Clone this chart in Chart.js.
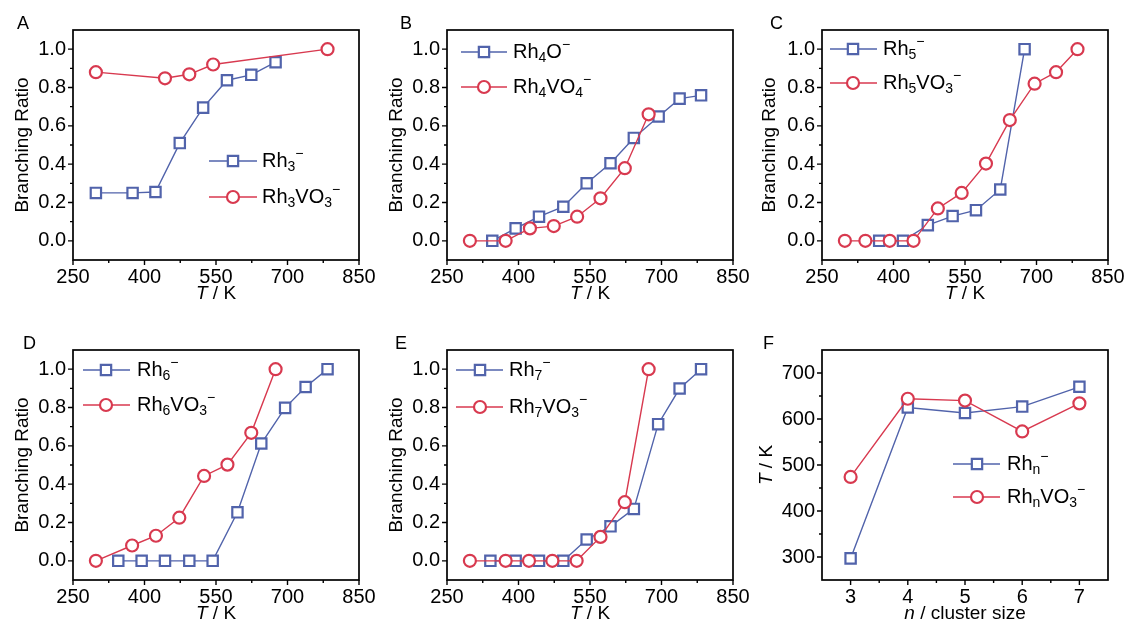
<!DOCTYPE html>
<html>
<head>
<meta charset="utf-8">
<script src="https://cdn.jsdelivr.net/npm/chart.js@4.4.1/dist/chart.umd.min.js"></script>
<style>
	html, body { margin: 0; padding: 0; background: #fff; overflow: hidden; }
	#wrap { position: relative; width: 1127px; height: 626px; }
	#wrap canvas { position: absolute; }
</style>
</head>
<body>
<div id="wrap">
	<canvas id="panelA" width="380" height="310" style="left:0px;top:0px;width:380px;height:310px"></canvas>
	<canvas id="panelB" width="380" height="310" style="left:374px;top:0px;width:380px;height:310px"></canvas>
	<canvas id="panelC" width="380" height="310" style="left:749px;top:0px;width:380px;height:310px"></canvas>
	<canvas id="panelD" width="380" height="310" style="left:0px;top:320px;width:380px;height:310px"></canvas>
	<canvas id="panelE" width="380" height="310" style="left:374px;top:320px;width:380px;height:310px"></canvas>
	<canvas id="panelF" width="380" height="310" style="left:749px;top:320px;width:380px;height:310px"></canvas>
</div>
<script>
// A: Rh3- / Rh3VO3-
var tempA_rh = [298, 375, 423, 474, 523, 573, 624, 675];
var ratioA_rh = [0.25, 0.25, 0.255, 0.51, 0.695, 0.838, 0.866, 0.932];
var tempA_rhv = [298, 443, 494, 544, 784];
var ratioA_rhv = [0.88, 0.848, 0.869, 0.92, 1.0];

// B: Rh4O- / Rh4VO4-
var tempB_rh = [345, 394, 443, 494, 543, 593, 642, 694, 738, 783];
var ratioB_rh = [0, 0.065, 0.126, 0.178, 0.30, 0.405, 0.537, 0.649, 0.742, 0.759];
var tempB_rhv = [298, 373, 424, 474, 523, 572, 623, 673];
var ratioB_rhv = [0, 0, 0.065, 0.077, 0.126, 0.222, 0.379, 0.66];

// C: Rh5- / Rh5VO3-
var tempC_rh = [370, 420, 472, 524, 573, 624, 675];
var ratioC_rh = [0, 0, 0.082, 0.129, 0.16, 0.268, 1.0];
var tempC_rhv = [298, 341, 392, 442, 493, 543, 594, 644, 696, 741, 786];
var ratioC_rhv = [0, 0, 0, 0, 0.169, 0.25, 0.403, 0.63, 0.82, 0.88, 1.0];

// D: Rh6- / Rh6VO3-
var tempD_rh = [345, 394, 443, 494, 543, 595, 645, 695, 738, 784];
var ratioD_rh = [0, 0, 0, 0, 0, 0.253, 0.612, 0.798, 0.907, 1.0];
var tempD_rhv = [298, 374, 424, 473, 525, 574, 624, 675];
var ratioD_rhv = [0, 0.08, 0.131, 0.225, 0.443, 0.502, 0.668, 1.0];

// E: Rh7- / Rh7VO3-
var tempE_rh = [341, 394, 443, 494, 543, 593, 642, 693, 738, 783];
var ratioE_rh = [0, 0, 0, 0, 0.111, 0.18, 0.271, 0.713, 0.899, 1.0];
var tempE_rhv = [298, 373, 422, 471, 522, 572, 623, 673];
var ratioE_rhv = [0, 0, 0, 0, 0, 0.125, 0.306, 1.0];

// F: temperature vs cluster size
var clusterSize = [3, 4, 5, 6, 7];
var tempF_rh = [297, 625, 613, 627, 670];
var tempF_rhv = [474, 644, 640, 573, 634];

// ticks
var tempTicks = [250, 400, 550, 700, 850];
var tempTickLabels = ["250", "400", "550", "700", "850"];
var tempMinor = [325, 475, 625, 775];
var ratioTicks = [0, 0.2, 0.4, 0.6, 0.8, 1.0];
var ratioTickLabels = ["0.0", "0.2", "0.4", "0.6", "0.8", "1.0"];
var ratioMinor = [0.1, 0.3, 0.5, 0.7, 0.9];
var sizeTicks = [3, 4, 5, 6, 7];
var sizeTickLabels = ["3", "4", "5", "6", "7"];
var sizeMinor = [3.5, 4.5, 5.5, 6.5];
var tempTicksF = [300, 400, 500, 600, 700];
var tempTickLabelsF = ["300", "400", "500", "600", "700"];
var tempMinorF = [350, 450, 550, 650];

// legend texts: [text, level(-1 sub, 1 sup), italic]
var MINUS = "\u2212";
var legendA = [[["Rh", 0], ["3", -1], [MINUS, 1]], [["Rh", 0], ["3", -1], ["VO", 0], ["3", -1], [MINUS, 1]]];
var legendB = [[["Rh", 0], ["4", -1], ["O", 0], [MINUS, 1]], [["Rh", 0], ["4", -1], ["VO", 0], ["4", -1], [MINUS, 1]]];
var legendC = [[["Rh", 0], ["5", -1], [MINUS, 1]], [["Rh", 0], ["5", -1], ["VO", 0], ["3", -1], [MINUS, 1]]];
var legendD = [[["Rh", 0], ["6", -1], [MINUS, 1]], [["Rh", 0], ["6", -1], ["VO", 0], ["3", -1], [MINUS, 1]]];
var legendE = [[["Rh", 0], ["7", -1], [MINUS, 1]], [["Rh", 0], ["7", -1], ["VO", 0], ["3", -1], [MINUS, 1]]];
var legendF = [[["Rh", 0], ["n", -1], [MINUS, 1]], [["Rh", 0], ["n", -1], ["VO", 0], ["3", -1], [MINUS, 1]]];

var titleTemp = [["T", 0, true], [" / K", 0]];
var titleRatio = [["Branching Ratio", 0]];
var titleSize = [["n", 0, true], [" / cluster size", 0]];

var FONT = '"Liberation Sans", Arial, sans-serif';
var BLUE = "#5163AB";
var RED = "#D8394F";
var RECT_R = 7.3;
var CIRC_R = 6;

function toXY(xs, ys) {
	return xs.map(function (x, i) {
		return { x: x, y: ys[i] };
	});
}

function partFont(p, size) {
	var s = p[1] === 0 ? size : Math.round(size * 0.7);
	return (p[2] ? "italic " : "") + s + "px " + FONT;
}

function drawRich(ctx, parts, x, y, size, align) {
	var w = 0;
	parts.forEach(function (p) {
		ctx.font = partFont(p, size);
		w += ctx.measureText(p[0]).width;
	});
	var cx = align === "center" ? x - w / 2 : x;
	ctx.textAlign = "left";
	ctx.textBaseline = "middle";
	parts.forEach(function (p) {
		ctx.font = partFont(p, size);
		var dy = 0;
		if (p[1] === -1) dy = size * 0.32;
		if (p[1] === 1) dy = -size * 0.36;
		ctx.fillText(p[0], cx, y + dy);
		cx += ctx.measureText(p[0]).width;
	});
}

function drawMarker(ctx, style, color, x, y) {
	ctx.save();
	ctx.fillStyle = "#fff";
	ctx.strokeStyle = color;
	ctx.lineWidth = 2.2;
	ctx.beginPath();
	if (style === "rect") {
		var s = RECT_R * Math.SQRT1_2;
		ctx.rect(x - s, y - s, 2 * s, 2 * s);
	} else {
		ctx.arc(x, y, CIRC_R, 0, Math.PI * 2);
	}
	ctx.fill();
	ctx.stroke();
	ctx.restore();
}

function decorPlugin(cfg) {
	return {
		id: "decor",
		afterDraw: function (chart) {
			var ctx = chart.ctx;
			var a = chart.chartArea;
			var sx = chart.scales.x;
			var sy = chart.scales.y;
			ctx.save();
			ctx.strokeStyle = "#000";
			ctx.fillStyle = "#000";

			// frame
			ctx.lineWidth = 1.7;
			ctx.strokeRect(a.left, a.top, a.right - a.left, a.bottom - a.top);

			// ticks, major and minor, pointing out
			ctx.lineWidth = 1.4;
			ctx.beginPath();
			cfg.xTicks.forEach(function (v) {
				var p = sx.getPixelForValue(v);
				ctx.moveTo(p, a.bottom); ctx.lineTo(p, a.bottom + 5);
			});
			cfg.xMinor.forEach(function (v) {
				var p = sx.getPixelForValue(v);
				ctx.moveTo(p, a.bottom); ctx.lineTo(p, a.bottom + 3);
			});
			cfg.yTicks.forEach(function (v) {
				var p = sy.getPixelForValue(v);
				ctx.moveTo(a.left, p); ctx.lineTo(a.left - 5, p);
			});
			cfg.yMinor.forEach(function (v) {
				var p = sy.getPixelForValue(v);
				ctx.moveTo(a.left, p); ctx.lineTo(a.left - 3, p);
			});
			ctx.stroke();

			// axis titles
			drawRich(ctx, cfg.xTitle, (a.left + a.right) / 2, 294, 19, "center");
			ctx.save();
			ctx.translate(cfg.yTitleX, (a.top + a.bottom) / 2);
			ctx.rotate(-Math.PI / 2);
			drawRich(ctx, cfg.yTitle, 0, 0, 19, "center");
			ctx.restore();

			// panel letter
			ctx.font = "18px " + FONT;
			ctx.textAlign = "left";
			ctx.textBaseline = "top";
			ctx.fillText(cfg.letter, cfg.letterX, 15);

			// legend
			var lg = cfg.legend;
			var items = [
				{ color: BLUE, style: "rect", text: lg.texts[0] },
				{ color: RED, style: "circle", text: lg.texts[1] }
			];
			items.forEach(function (it, i) {
				var y = lg.ys[i];
				ctx.strokeStyle = it.color;
				ctx.lineWidth = 1.4;
				ctx.beginPath();
				ctx.moveTo(lg.x1, y); ctx.lineTo(lg.x2, y);
				ctx.stroke();
				drawMarker(ctx, it.style, it.color, lg.mx, y);
				ctx.fillStyle = "#000";
				drawRich(ctx, it.text, lg.tx, y, 20, "left");
			});
			ctx.restore();
		}
	};
}

function makePanel(id, cfg) {
	var tickFont = { family: FONT, size: 20 };
	new Chart(document.getElementById(id), {
		type: "line",
		data: {
			datasets: [
				{
					data: toXY(cfg.xRed, cfg.yRed),
					borderColor: RED,
					borderWidth: 1.4,
					pointStyle: "circle",
					pointRadius: CIRC_R,
					pointBorderWidth: 2.2,
					pointBorderColor: RED,
					pointBackgroundColor: "#fff",
					tension: 0,
					fill: false,
					clip: false
				},
				{
					data: toXY(cfg.xBlue, cfg.yBlue),
					borderColor: BLUE,
					borderWidth: 1.4,
					pointStyle: "rect",
					pointRadius: RECT_R,
					pointBorderWidth: 2.2,
					pointBorderColor: BLUE,
					pointBackgroundColor: "#fff",
					tension: 0,
					fill: false,
					clip: false
				}
			]
		},
		options: {
			responsive: false,
			animation: false,
			devicePixelRatio: 1,
			layout: { padding: { left: 0, top: 30, right: 21, bottom: 0 } },
			plugins: { legend: { display: false }, tooltip: { enabled: false } },
			scales: {
				x: {
					type: "linear",
					min: cfg.xMin,
					max: cfg.xMax,
					grid: { display: false, drawTicks: false },
					border: { display: false },
					afterBuildTicks: function (s) {
						s.ticks = cfg.xTicks.map(function (v) { return { value: v }; });
					},
					afterFit: function (s) {
						s.height = 50;
						s.paddingLeft = 0;
						s.paddingRight = 0;
					},
					ticks: {
						padding: 5,
						color: "#000",
						font: tickFont,
						maxRotation: 0,
						autoSkip: false,
						callback: function (v, i) { return cfg.xLabels[i]; }
					}
				},
				y: {
					type: "linear",
					min: cfg.yMin,
					max: cfg.yMax,
					grid: { display: false, drawTicks: false },
					border: { display: false },
					afterBuildTicks: function (s) {
						s.ticks = cfg.yTicks.map(function (v) { return { value: v }; });
					},
					afterFit: function (s) {
						s.width = 73;
						s.paddingTop = 0;
						s.paddingBottom = 0;
					},
					ticks: {
						padding: 7,
						color: "#000",
						font: tickFont,
						autoSkip: false,
						callback: function (v, i) { return cfg.yLabels[i]; }
					}
				}
			}
		},
		plugins: [decorPlugin(cfg)]
	});
}

function tempPanel(extra) {
	var base = {
		xMin: 250, xMax: 850, xTicks: tempTicks, xLabels: tempTickLabels, xMinor: tempMinor,
		yMin: -0.1, yMax: 1.1, yTicks: ratioTicks, yLabels: ratioTickLabels, yMinor: ratioMinor,
		xTitle: titleTemp, yTitle: titleRatio, yTitleX: 23
	};
	Object.keys(extra).forEach(function (k) { base[k] = extra[k]; });
	return base;
}

makePanel("panelA", tempPanel({
	xBlue: tempA_rh, yBlue: ratioA_rh, xRed: tempA_rhv, yRed: ratioA_rhv,
	letter: "A", letterX: 17,
	legend: { x1: 209, x2: 257, mx: 233, tx: 262, ys: [161, 197], texts: legendA }
}));
makePanel("panelB", tempPanel({
	xBlue: tempB_rh, yBlue: ratioB_rh, xRed: tempB_rhv, yRed: ratioB_rhv,
	letter: "B", letterX: 26,
	legend: { x1: 87, x2: 133, mx: 110, tx: 139, ys: [52, 87], texts: legendB }
}));
makePanel("panelC", tempPanel({
	xBlue: tempC_rh, yBlue: ratioC_rh, xRed: tempC_rhv, yRed: ratioC_rhv,
	letter: "C", letterX: 21, yTitleX: 21,
	legend: { x1: 81, x2: 128, mx: 104, tx: 134, ys: [49, 83], texts: legendC }
}));
makePanel("panelD", tempPanel({
	xBlue: tempD_rh, yBlue: ratioD_rh, xRed: tempD_rhv, yRed: ratioD_rhv,
	letter: "D", letterX: 23,
	legend: { x1: 83, x2: 130, mx: 106, tx: 137, ys: [50, 85], texts: legendD }
}));
makePanel("panelE", tempPanel({
	xBlue: tempE_rh, yBlue: ratioE_rh, xRed: tempE_rhv, yRed: ratioE_rhv,
	letter: "E", letterX: 21,
	legend: { x1: 82, x2: 129, mx: 106, tx: 135, ys: [50, 87], texts: legendE }
}));
makePanel("panelF", {
	xMin: 2.5, xMax: 7.5, xTicks: sizeTicks, xLabels: sizeTickLabels, xMinor: sizeMinor,
	yMin: 250, yMax: 750, yTicks: tempTicksF, yLabels: tempTickLabelsF, yMinor: tempMinorF,
	xTitle: titleSize, yTitle: titleTemp, yTitleX: 18,
	xBlue: clusterSize, yBlue: tempF_rh, xRed: clusterSize, yRed: tempF_rhv,
	letter: "F", letterX: 14,
	legend: { x1: 204, x2: 251, mx: 228, tx: 258, ys: [144, 177], texts: legendF }
});
</script>
</body>
</html>
